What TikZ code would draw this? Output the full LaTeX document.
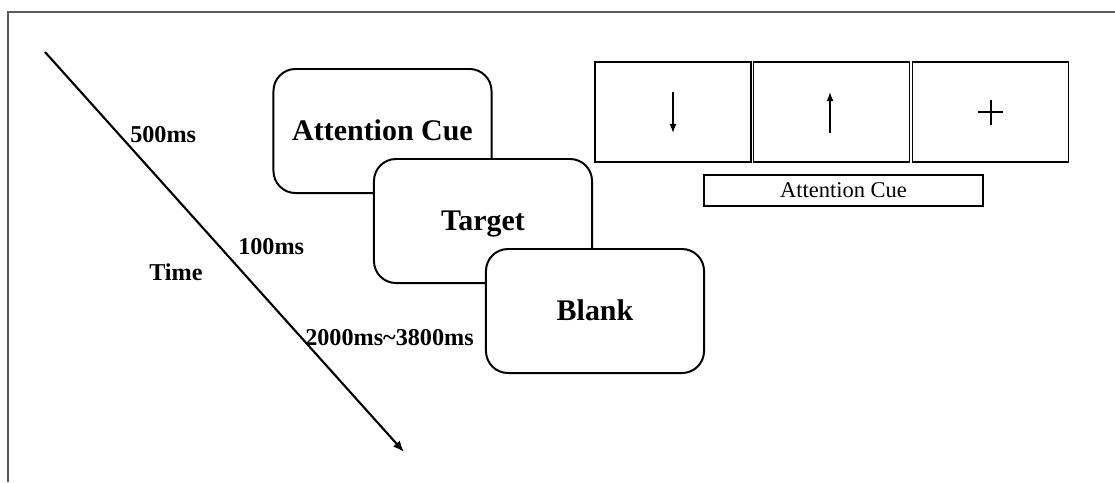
\documentclass[tikz,border=0pt]{standalone}
\usepackage{fontspec}
\setmainfont{Liberation Serif}
\usetikzlibrary{arrows.meta}
\tikzstyle{stage}=[rectangle,rounded corners=0.55cm,fill=white,draw=black,
  line width=1.4pt,minimum width=5.45cm,minimum height=3.1cm,
  text height=14.1pt,text depth=0pt,
  font=\fontsize{21.3}{24}\selectfont\bfseries]
\tikzstyle{screen}=[rectangle,draw=black,line width=1.2pt,
  minimum width=3.9cm,minimum height=2.5cm]
\tikzstyle{lbl}=[inner sep=0pt,font=\fontsize{17.2}{20}\selectfont\bfseries]
\tikzstyle{cue}=[line width=1.1pt,-{Latex[length=6.5pt,width=5pt]}]

\begin{document}
\begin{tikzpicture}[x=0.025cm,y=-0.025cm]
    \useasboundingbox (0,0) rectangle (1115,482);
    % frame
    \draw[line width=1.4pt,draw=black!65] (8,482) -- (8,12) -- (1115,12);
    % time axis
    \coordinate (tstart) at (45,52);
    \coordinate (tend) at (404,452);
    \draw[line width=1.5pt,-{Latex[length=8pt,width=6.5pt]}] (tstart) -- (tend);
    \node [style=lbl,anchor=base west] (t500) at (130,142) {500ms};
    \node [style=lbl,anchor=base west] (t100) at (238,254) {100ms};
    \node [style=lbl,anchor=base west] (time) at (149,280) {Time};
    \node [style=lbl,anchor=base west] (tblank) at (305,345) {2000ms\textasciitilde3800ms};
    % trial stages
    \node [style=stage] (cue) at (382.5,131) {Attention Cue};
    \node [style=stage] (target) at (483,221) {Target};
    \node [style=stage] (blank) at (595,311) {Blank};
    % cue screens
    \node [style=screen] (s1) at (673,112) {};
    \node [style=screen] (s2) at (831.5,112) {};
    \node [style=screen] (s3) at (990.5,112) {};
    \coordinate (down1) at (673,92);
    \coordinate (down2) at (673,133);
    \coordinate (up1) at (830,133);
    \coordinate (up2) at (830,92);
    \draw[style=cue] (down1) to (down2);
    \draw[style=cue] (up1) to (up2);
    \draw[line width=1.4pt] (978,112) -- (1003,112);
    \draw[line width=1.4pt] (990.5,99.5) -- (990.5,124.5);
    \node [draw=black,line width=1.2pt,minimum width=6.975cm,minimum height=0.775cm,
      inner sep=0pt,font=\fontsize{16}{18}\selectfont] (caption) at (843.5,190.5) {Attention Cue};
  \end{tikzpicture}
\end{document}
